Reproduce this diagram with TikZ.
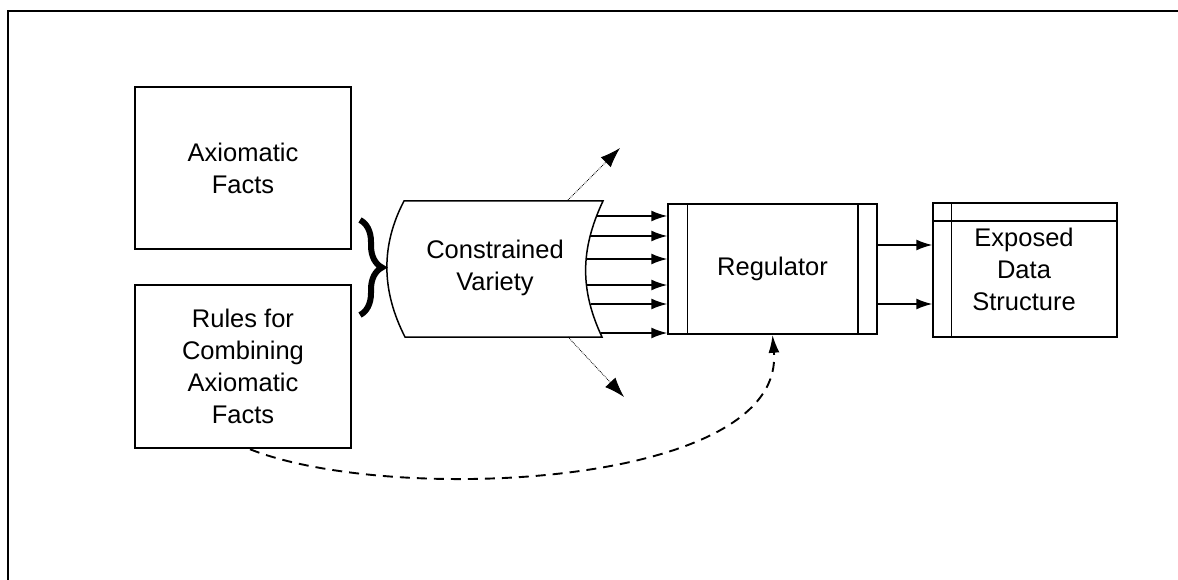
\documentclass[tikz,border=0pt]{standalone}
\usepackage{fontspec}
\setmainfont{Liberation Sans}
\usetikzlibrary{arrows.meta,decorations.pathreplacing,calc}
\begin{document}
\begin{tikzpicture}[x=1pt,y=-1pt,
  box/.style={draw, line width=1.5pt, inner sep=0pt, align=center},
  lbl/.style={align=center, font=\fontsize{25.5}{32}\selectfont},
  flow/.style={line width=1.5pt, -{Latex[length=16pt,width=11pt]}},
  spill/.style={line width=0.8pt, densely dotted, -{Latex[length=20pt,width=14pt]}},
  fb/.style={line width=1.9pt, dash pattern=on 10pt off 7pt, -{Latex[length=18pt,width=11pt]}}]
\useasboundingbox (0,0) rectangle (1178,580);
\draw[line width=2pt] (8,580) -- (8,11) -- (1178,11);

% left boxes
\node[box, lbl, minimum width=216pt, minimum height=162pt] (ax) at (243,168) {Axiomatic\\Facts};
\node[box, lbl, minimum width=216pt, minimum height=163pt] (ru) at (243,366.5) {Rules for\\Combining\\Axiomatic\\Facts};

% brace
\draw[decorate, decoration={brace, amplitude=22pt}, line width=6pt] (360,220) -- (360,315);

% constrained variety
\draw[line width=1.5pt] (404,201) -- (603,201) .. controls (580,250) and (580,290) .. (602,337)
  -- (405,337) .. controls (381,290) and (381,245) .. (404,201) -- cycle;
\node[lbl] (cv) at (495,268) {Constrained\\Variety};

% regulator
\node[box, lbl, minimum width=209pt, minimum height=130pt] (reg) at (772.5,269) {Regulator};
\draw[line width=1.5pt] ($(reg.north west)+(20,0)$) -- ($(reg.south west)+(20,0)$);
\draw[line width=1.5pt] ($(reg.north east)+(-20,0)$) -- ($(reg.south east)+(-20,0)$);

% exposed data structure
\node[box, minimum width=184pt, minimum height=134pt] (eds) at (1025,270) {};
\draw[line width=1.5pt] ($(eds.north west)+(0,19)$) -- ($(eds.north east)+(0,19)$);
\draw[line width=1.5pt] ($(eds.north west)+(19,0)$) -- ($(eds.south west)+(19,0)$);
\node[lbl] (edst) at (1024,269) {Exposed\\Data\\Structure};

% flows from constrained variety into regulator
\coordinate (s1) at (596,216);
\coordinate (s2) at (590,236);
\coordinate (s3) at (586.5,259);
\coordinate (s4) at (587,285);
\coordinate (s5) at (590.5,304);
\coordinate (s6) at (601,333);
\foreach \s in {s1,s2,s3,s4,s5,s6}
  \draw[flow] (\s) -- (\s -| reg.west);

% flows from regulator to data structure
\coordinate (o1) at ($(reg.east)+(0,-24)$);
\coordinate (o2) at ($(reg.east)+(0,35)$);
\draw[flow] (o1) -- (o1 -| eds.west);
\draw[flow] (o2) -- (o2 -| eds.west);

% spilled variety
\coordinate (u0) at (568,200);
\coordinate (u1) at (620,148);
\coordinate (d0) at (568,337);
\coordinate (d1) at (624,397);
\draw[spill] (u0) -- (u1);
\draw[spill] (d0) -- (d1);

% feedback from rules to regulator
\coordinate (f0) at ($(ru.south)+(7,0.5)$);
\draw[fb] (f0) .. controls (390,505) and (785,488) .. (reg.south);
\end{tikzpicture}
\end{document}
